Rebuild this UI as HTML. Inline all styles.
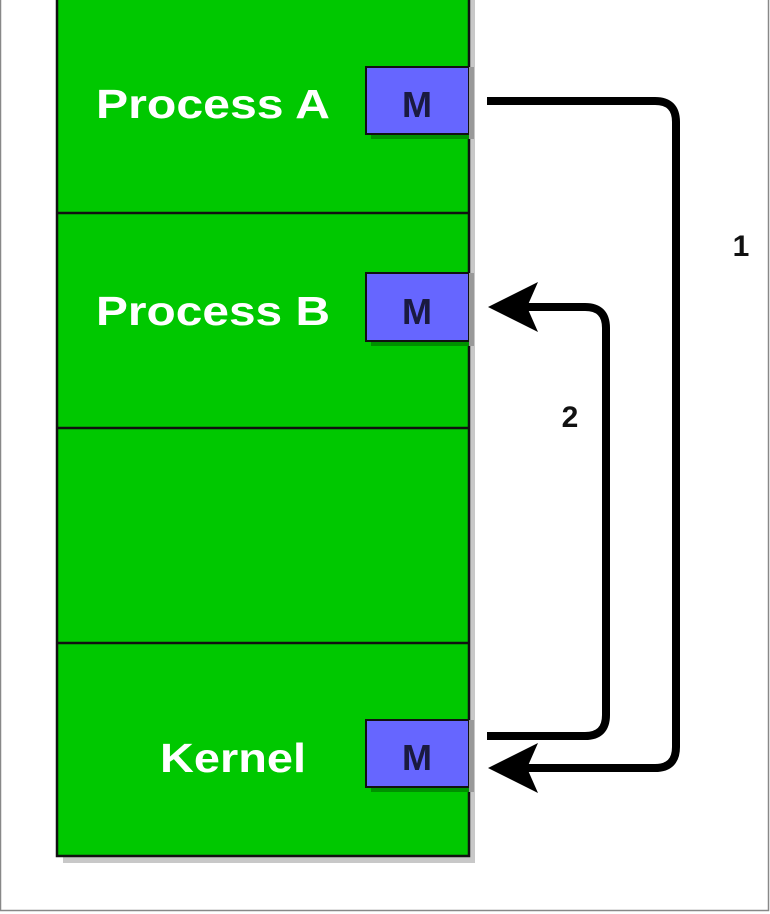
<!DOCTYPE html>
<html><head><meta charset="utf-8"><style>
html,body{margin:0;padding:0;background:#fff;}
svg{display:block;}
</style></head><body>
<svg width="770" height="914" viewBox="0 0 770 914" xmlns="http://www.w3.org/2000/svg">
<rect x="0.5" y="-2" width="768" height="912.5" fill="#fff" stroke="#888" stroke-width="1.5"/>
<!-- shadow -->
<rect x="63" y="-5" width="412" height="868" fill="#c8c8c8"/>
<rect x="57" y="-5" width="412" height="861" fill="#00c800" stroke="#111" stroke-width="2.5"/>
<line x1="57" y1="213" x2="469" y2="213" stroke="#111" stroke-width="2.5"/>
<line x1="57" y1="428" x2="469" y2="428" stroke="#111" stroke-width="2.5"/>
<line x1="57" y1="643" x2="469" y2="643" stroke="#111" stroke-width="2.5"/>
<g font-family="Liberation Sans, Arial, sans-serif" font-weight="bold">
<text x="96" y="118" font-size="41" fill="#fff" textLength="234" lengthAdjust="spacingAndGlyphs">Process A</text>
<text x="96" y="325" font-size="41" fill="#fff" textLength="234" lengthAdjust="spacingAndGlyphs">Process B</text>
<text x="160" y="772" font-size="41" fill="#fff" textLength="146" lengthAdjust="spacingAndGlyphs">Kernel</text>
</g>
<g>
<rect x="371" y="72" width="103" height="67" fill="#009000"/>
<rect x="366" y="67" width="103" height="67" fill="#6666ff" stroke="#111" stroke-width="2"/>
<rect x="371" y="278" width="103" height="68" fill="#009000"/>
<rect x="366" y="273" width="103" height="68" fill="#6666ff" stroke="#111" stroke-width="2"/>
<rect x="371" y="725" width="103" height="67" fill="#009000"/>
<rect x="366" y="720" width="103" height="67" fill="#6666ff" stroke="#111" stroke-width="2"/>
<rect x="469" y="67" width="5" height="72" fill="#999"/>
<rect x="469" y="273" width="5" height="73" fill="#999"/>
<rect x="469" y="720" width="5" height="72" fill="#999"/>
</g>
<g font-family="Liberation Sans, Arial, sans-serif" font-weight="bold" fill="#1a1a40" font-size="36" text-anchor="middle">
<text x="417" y="117">M</text>
<text x="417" y="324">M</text>
<text x="417" y="770">M</text>
</g>
<g fill="none" stroke="#000" stroke-width="8">
<path d="M487 101 H655 Q676 101 676 122 V747 Q676 768 655 768 H525"/>
<path d="M487 736 H585 Q606 736 606 715 V328 Q606 307 585 307 H525"/>
</g>
<path d="M488 768 L538 743 L527 768 L538 793 Z" fill="#000"/>
<path d="M488 307 L538 282 L527 307 L538 332 Z" fill="#000"/>
<g font-family="Liberation Sans, Arial, sans-serif" font-weight="bold" fill="#111" font-size="30" text-anchor="middle">
<text x="741" y="256">1</text>
<text x="570" y="427">2</text>
</g>
</svg>
</body></html>
